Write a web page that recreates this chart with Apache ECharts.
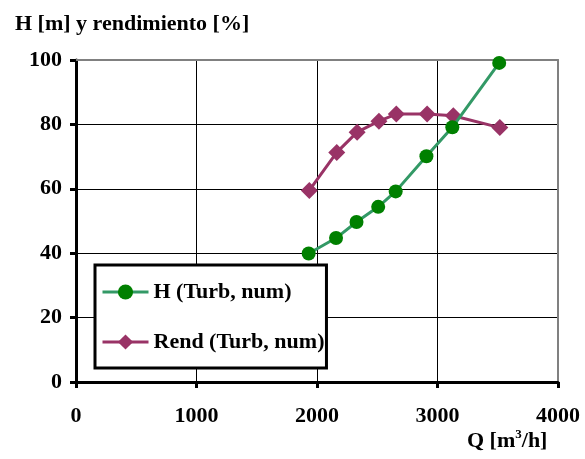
<!DOCTYPE html>
<html><head><meta charset="utf-8">
<script src="https://cdn.jsdelivr.net/npm/echarts@6/dist/echarts.min.js"></script>
<style>html,body{margin:0;padding:0;background:#fff}#c{width:585px;height:459px}</style>
</head><body><div id="c"></div>
<script>
const xTicks = [0, 1000, 2000, 3000, 4000];
const yTicks = [0, 20, 40, 60, 80, 100];
const qH = [1931, 2158, 2328, 2508, 2653, 2908, 3123, 3512];
const hValues = [39.9, 44.7, 49.7, 54.4, 59.2, 70.1, 79.1, 99.1];
const qRend = [1936, 2164, 2333, 2514, 2658, 2914, 3131, 3517];
const rendValues = [59.5, 71.3, 77.6, 81.0, 83.2, 83.2, 82.7, 79.0];
const seriesNames = ['H (Turb, num)', 'Rend (Turb, num)'];
const yTitle = 'H [m] y rendimiento [%]';
const xTitleParts = ['Q [m', '3', '/h]'];

const FONT = '"Liberation Serif","Times New Roman",serif';
const chart = echarts.init(document.getElementById('c'), null, {renderer: 'canvas'});
const zip = (a, b) => a.map((v, i) => [v, b[i]]);
const txt = {fontFamily: FONT, fontWeight: 'bold', fontSize: 22, color: '#000'};
chart.setOption({
  animation: false,
  backgroundColor: '#fff',
  title: [
    {text: yTitle, left: 10, top: 8, textStyle: txt},
    {text: '{a|' + xTitleParts[0] + '}{s|' + xTitleParts[1] + '}{a|' + xTitleParts[2] + '}',
     left: 462, top: 423,
     textStyle: {rich: {
       a: Object.assign({}, txt, {verticalAlign: 'bottom', lineHeight: 24}),
       s: {fontFamily: FONT, fontWeight: 'bold', fontSize: 13, color: '#000', verticalAlign: 'top', lineHeight: 24, padding: [0, 0, 8, 0]}
     }}}
  ],
  grid: {left: 76, right: 27, top: 60, bottom: 77, containLabel: false},
  legend: {
    orient: 'vertical', left: 95, top: 265,
    padding: [16, 2, 15, 6],
    itemGap: 28, itemWidth: 46, itemHeight: 19,
    borderColor: '#000', borderWidth: 3, backgroundColor: '#fff',
    lineStyle: {width: 3},
    textStyle: Object.assign({}, txt, {lineHeight: 22}),
    data: seriesNames
  },
  xAxis: [{
    type: 'value', min: xTicks[0], max: xTicks[xTicks.length - 1], interval: 1000,
    axisLine: {show: true, onZero: false, lineStyle: {color: '#000', width: 3}},
    axisTick: {show: true, length: 6, lineStyle: {color: '#000', width: 3}},
    axisLabel: Object.assign({margin: 23, formatter: v => String(v)}, txt),
    splitLine: {show: true, lineStyle: {color: '#000', width: 1}}
  }, {
    type: 'value', position: 'top', min: 0, max: 4000,
    axisLine: {show: true, onZero: false, lineStyle: {color: '#808080', width: 2}},
    axisTick: {show: false}, axisLabel: {show: false}, splitLine: {show: false}
  }],
  yAxis: [{
    type: 'value', min: yTicks[0], max: yTicks[yTicks.length - 1], interval: 20,
    axisLine: {show: true, onZero: false, lineStyle: {color: '#000', width: 3}},
    axisTick: {show: true, length: 6, lineStyle: {color: '#000', width: 3}},
    axisLabel: Object.assign({margin: 14, formatter: v => String(v)}, txt),
    splitLine: {show: true, lineStyle: {color: '#000', width: 1}}
  }, {
    type: 'value', position: 'right', min: 0, max: 100,
    axisLine: {show: true, onZero: false, lineStyle: {color: '#808080', width: 2}},
    axisTick: {show: false}, axisLabel: {show: false}, splitLine: {show: false}
  }],
  series: [{
    name: seriesNames[0], type: 'line', xAxisIndex: 0, yAxisIndex: 0,
    data: zip(qH, hValues),
    symbol: 'circle', symbolSize: 14,
    itemStyle: {color: '#008000'},
    lineStyle: {color: '#339966', width: 3},
    z: 5
  }, {
    name: seriesNames[1], type: 'line', xAxisIndex: 0, yAxisIndex: 0,
    data: zip(qRend, rendValues),
    symbol: 'diamond', symbolSize: 17,
    itemStyle: {color: '#993366'},
    lineStyle: {color: '#993366', width: 3},
    z: 4
  }]
});
</script></body></html>
